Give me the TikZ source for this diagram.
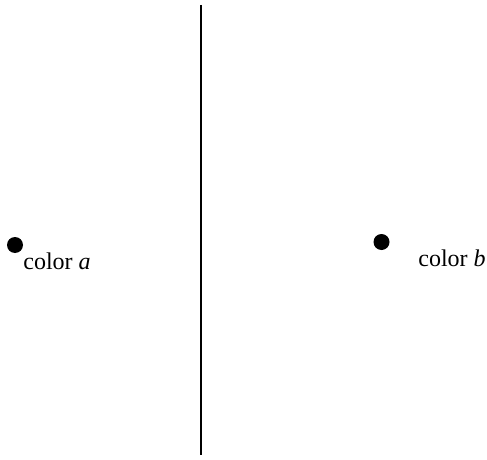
\documentclass[tikz,border=0pt]{standalone}
\usepackage{fontspec}
\setmainfont{Liberation Serif}

\begin{document}
\begin{tikzpicture}[x=0.5pt,y=-0.5pt]
\useasboundingbox (0,0) rectangle (487,460);
\coordinate (top) at (200.5,5);
\coordinate (bottom) at (200.5,455);
\draw[line width=1pt] (top) -- (bottom);
\node[circle, fill=black, inner sep=0pt, minimum size=8pt] (dota) at (15,245) {};
\node[anchor=base west, inner sep=0pt, font=\fontsize{12}{14}\selectfont] (labela) at (23,269) {color \textit{a}};
\node[circle, fill=black, inner sep=0pt, minimum size=8pt] (dotb) at (381.5,242) {};
\node[anchor=base west, inner sep=0pt, font=\fontsize{12}{14}\selectfont] (labelb) at (418,266) {color \textit{b}};
\end{tikzpicture}
\end{document}
